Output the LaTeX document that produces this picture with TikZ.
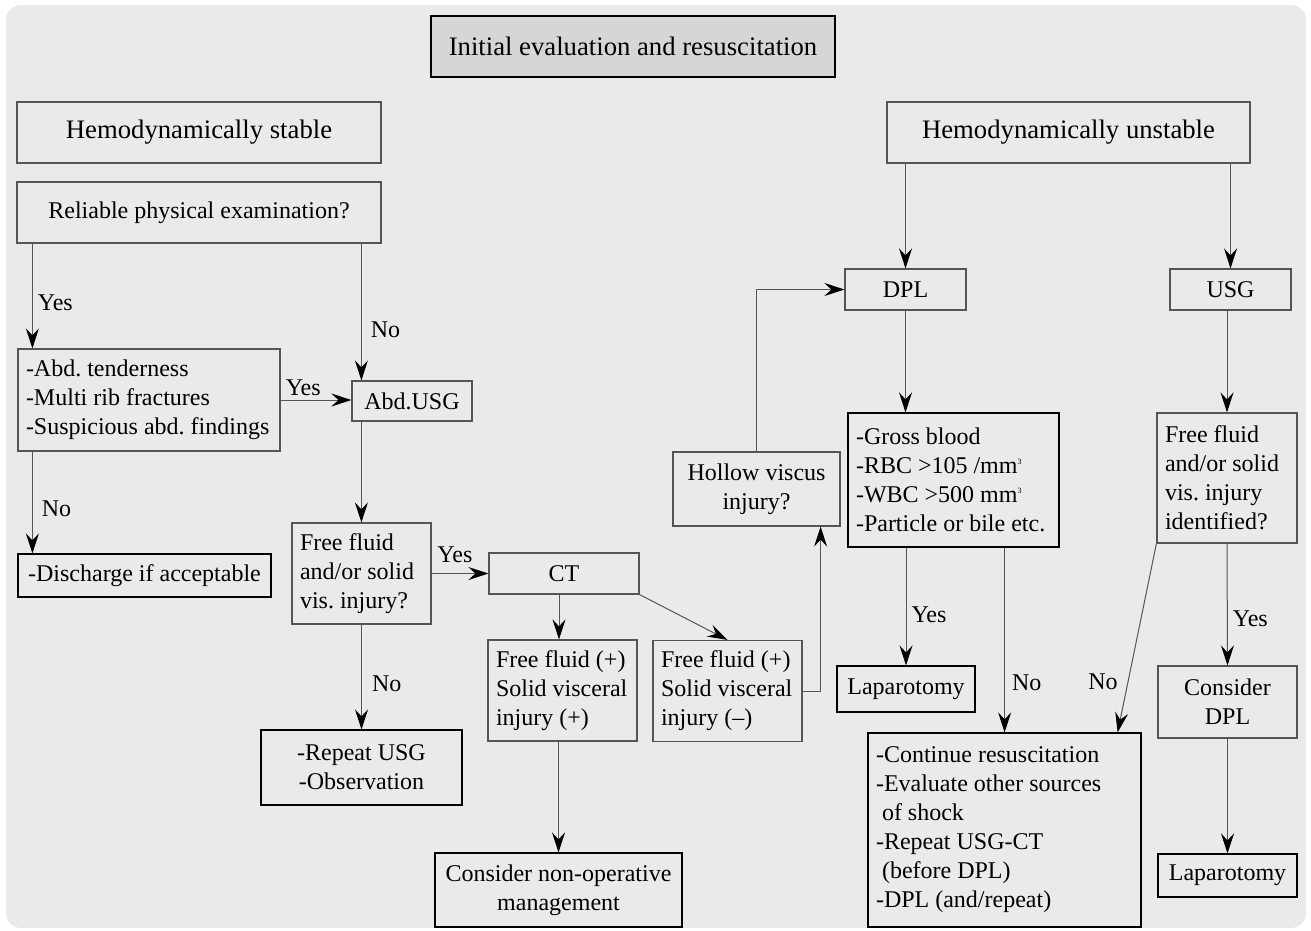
\documentclass[tikz,border=0pt]{standalone}
\usepackage{fontspec}
\setmainfont{Liberation Serif}
\usepackage{tikz}
\usetikzlibrary{arrows.meta,calc}
\definecolor{panelgray}{HTML}{EAEAEA}
\definecolor{titlegray}{HTML}{D6D6D6}
\definecolor{linegray}{HTML}{555555}
\newcommand{\bodyfont}{\fontsize{24}{29}\selectfont}
\newcommand{\headfont}{\fontsize{26.7}{32}\selectfont}
\newcommand{\cube}{\raisebox{9pt}{\fontsize{8}{8}\selectfont 3}}
\frenchspacing

\begin{document}
\begin{tikzpicture}[x=1pt,y=-1pt,
    box/.style={draw=linegray, line width=1.2pt, inner sep=0pt, font=\bodyfont, align=center,
      execute at begin node={\spaceskip=0pt\relax\xspaceskip=0pt\relax}},
    lbox/.style 2 args={box, align=left, inner xsep=8pt, text width=#1, minimum height=#2},
    arr/.style={draw=linegray, line width=1pt, -{Stealth[length=20pt,width=13pt,inset=7pt,color=black]}},
    lab/.style={font=\bodyfont, inner sep=0pt}]
    \useasboundingbox (0,0) rectangle (1311,930);
    \fill[panelgray, rounded corners=15pt] (6,5) rectangle (1306,928);

    \node[box, draw=black, fill=titlegray, font=\headfont, minimum width=404pt, minimum height=61pt] (init) at (633,46.5) {Initial evaluation and resuscitation};
    \node[box, font=\headfont, minimum width=364pt, minimum height=61pt] (stable) at (199,132.5) {Hemodynamically stable};
    \node[box, minimum width=364pt, minimum height=61pt] (reliable) at (199,212.5) {Reliable physical examination?};
    \node[box, font=\headfont, minimum width=363pt, minimum height=61pt] (unstable) at (1068.5,132.5) {Hemodynamically unstable};

    \node[lbox={246pt}{102pt}] (signs) at (149,400) {-Abd. tenderness\\-Multi rib fractures\\-Suspicious abd. findings};
    \node[box, minimum width=120pt, minimum height=40pt] (abdusg) at (412,401) {Abd.USG};
    \node[box, draw=black, minimum width=253pt, minimum height=43pt] (discharge) at (144.5,575.5) {-Discharge if acceptable};
    \node[lbox={123pt}{101pt}] (fluidq) at (361.5,573.5) {Free fluid\\and/or solid\\vis. injury?};
    \node[box, minimum width=150pt, minimum height=41pt] (ct) at (564,573.5) {CT};
    \node[box, draw=black, minimum width=201pt, minimum height=75pt] (repeat) at (361.5,767.5) {-Repeat USG\\-Observation};
    \node[lbox={133pt}{101pt}] (ctpos) at (562.5,690.5) {Free fluid (+)\\Solid visceral\\injury (+)};
    \node[lbox={133pt}{101pt}] (ctneg) at (727.5,691) {Free fluid (+)\\Solid visceral\\injury (--)};
    \node[box, draw=black, minimum width=247pt, minimum height=74pt] (nonop) at (558.5,890) {Consider non-operative\\management};
    \node[box, minimum width=167pt, minimum height=74pt] (hollow) at (756.5,489) {Hollow viscus\\injury?};

    \node[box, minimum width=121pt, minimum height=41pt] (dpl) at (905.5,289.5) {DPL};
    \node[box, minimum width=121pt, minimum height=41pt] (usg) at (1230.5,289.5) {USG};
    \node[lbox={195pt}{134pt}, draw=black] (dplres) at (953.5,480) {-Gross blood\\-RBC >105 /mm\cube\\-WBC >500 mm\cube\\-Particle or bile etc.};
    \node[lbox={124pt}{130pt}] (fluidid) at (1227,478) {Free fluid\\and/or solid\\vis. injury\\identified?};
    \node[box, draw=black, minimum width=138pt, minimum height=46pt] (lapleft) at (906,689) {Laparotomy};
    \node[lbox={257pt}{194pt}, draw=black] (resus) at (1004.5,830) {-Continue resuscitation\\-Evaluate other sources\\\hspace*{6pt}of shock\\-Repeat USG-CT\\\hspace*{6pt}(before DPL)\\-DPL (and/repeat)};
    \node[box, minimum width=139pt, minimum height=72pt] (considerdpl) at (1227.5,702) {Consider\\DPL};
    \node[box, draw=black, minimum width=139pt, minimum height=43pt] (lapright) at (1227.5,875.5) {Laparotomy};

    \draw[arr] ([xshift=16pt]reliable.south west) -- node[lab, right=5pt, pos=.56] {Yes} ([xshift=15pt]signs.north west);
    \draw[arr] ([xshift=10pt]abdusg.north west |- reliable.south) -- node[lab, right=9pt, pos=.63] {No} ([xshift=10pt]abdusg.north west);
    \draw[arr] (signs.east) -- node[lab, above=4pt, pos=.32] {Yes} (signs.east -| abdusg.west);
    \draw[arr] ([xshift=15pt]signs.south west) -- node[lab, right=9pt, pos=.56] {No} ([xshift=15pt]signs.south west |- discharge.north);
    \draw[arr] ([xshift=10pt]abdusg.south west) -- ([xshift=10pt]abdusg.south west |- fluidq.north);
    \draw[arr] (fluidq.east) -- node[lab, above=10pt, pos=.41] {Yes} (ct.west);
    \draw[arr] (fluidq.south) -- node[lab, right=10pt, pos=.56] {No} (repeat.north);
    \draw[arr] ([xshift=-5pt]ct.south) -- ([xshift=-5pt]ct.south |- ctpos.north);
    \draw[arr] (ct.south east) -- (ctneg.north);
    \draw[arr] (ctneg.east) -| ([xshift=-20pt]hollow.south east);
    \draw[arr] ([xshift=-4pt]ctpos.south) -- ([xshift=-4pt]ctpos.south |- nonop.north);
    \draw[arr] (hollow.north) |- (dpl.west);
    \draw[arr] (dpl.north |- unstable.south) -- (dpl.north);
    \draw[arr] (usg.north |- unstable.south) -- (usg.north);
    \draw[arr] (dpl.south) -- (dpl.south |- dplres.north);
    \draw[arr] (lapleft.north |- dplres.south) -- node[lab, right=5pt, pos=.57] {Yes} (lapleft.north);
    \draw[arr] ([xshift=-55pt]dplres.south east) -- node[lab, right=7pt, pos=.73] {No} ([xshift=-55pt]dplres.south east |- resus.north);
    \draw[arr] (fluidid.north |- usg.south) -- (fluidid.north);
    \draw[arr] (fluidid.south) -- node[lab, right=5pt, pos=.62] {Yes} (considerdpl.north);
    \draw[arr] (fluidid.south west) -- node[lab, left=10pt, pos=.73] {No} ([xshift=-24pt]resus.north east);
    \draw[arr] (considerdpl.south) -- (lapright.north);
\end{tikzpicture}
\end{document}
